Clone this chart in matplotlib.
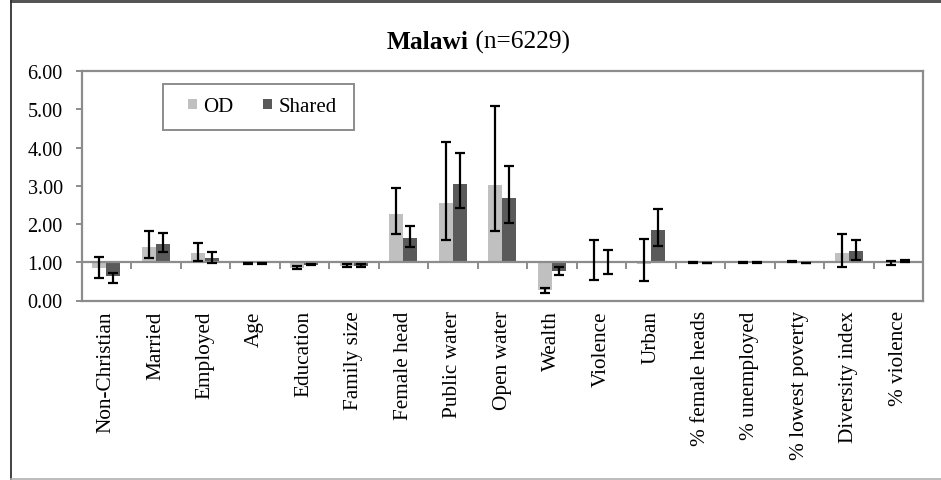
import numpy as np
import matplotlib.pyplot as plt
from matplotlib.patches import Rectangle
from matplotlib.lines import Line2D

# odds ratios, bars are drawn from 1.0
cats = ['Non-Christian', 'Married', 'Employed', 'Age', 'Education', 'Family size',
        'Female head', 'Public water', 'Open water', 'Wealth', 'Violence', 'Urban',
        '% female heads', '% unemployed', '% lowest poverty', 'Diversity index', '% violence']
od = [0.84, 1.40, 1.23, 0.97, 0.85, 0.91, 2.27, 2.55, 3.03, 0.28, 0.97, 0.96, 0.99, 1.00, 1.02, 1.23, 0.97]
od_lo = [0.59, 1.10, 1.03, 0.96, 0.82, 0.87, 1.75, 1.57, 1.82, 0.20, 0.53, 0.50, 0.98, 0.99, 1.01, 0.88, 0.93]
od_hi = [1.14, 1.83, 1.51, 0.98, 0.89, 0.95, 2.94, 4.14, 5.08, 0.33, 1.57, 1.60, 1.00, 1.01, 1.03, 1.75, 1.02]
sh = [0.65, 1.49, 1.11, 0.97, 0.93, 0.90, 1.64, 3.05, 2.68, 0.77, 1.02, 1.85, 0.98, 0.99, 0.98, 1.29, 1.03]
sh_lo = [0.46, 1.27, 0.97, 0.96, 0.92, 0.87, 1.40, 2.42, 2.03, 0.66, 0.69, 1.42, 0.97, 0.98, 0.97, 1.07, 1.00]
sh_hi = [0.72, 1.77, 1.27, 0.98, 0.95, 0.95, 1.95, 3.86, 3.51, 0.88, 1.31, 2.40, 0.99, 1.00, 0.99, 1.57, 1.06]
yticks = [0, 1, 2, 3, 4, 5, 6]

plt.rcParams['font.family'] = ['Liberation Serif', 'DejaVu Serif']
axis_grey = '#8c8c8c'
od_col = '#c0c0c0'
sh_col = '#5a5a5a'

W, H = 941, 481
fig = plt.figure(figsize=(W / 100, H / 100), dpi=100)
ax = fig.add_axes([81.5 / W, (H - 301.5) / H, (923 - 81.5) / W, (301.5 - 72) / H])

x = np.arange(len(cats))
bw = 0.28
od = np.array(od); sh = np.array(sh)
ax.bar(x - bw / 2, od - 1, bw, bottom=1, color=od_col, zorder=2, label='OD')
ax.bar(x + bw / 2, sh - 1, bw, bottom=1, color=sh_col, zorder=2, label='Shared')

# baseline at 1.0 with category separators
ax.axhline(1, color=axis_grey, lw=1.6, zorder=3)
bounds = np.arange(len(cats) + 1) - 0.5
ax.plot(bounds[1:], np.ones(len(bounds) - 1), linestyle='none', marker=3,
        markersize=5, mew=1.4, color=axis_grey, zorder=3)

ax.errorbar(x - bw / 2, od, yerr=[od - np.array(od_lo), np.array(od_hi) - od],
            fmt='none', ecolor='black', elinewidth=1.6, capsize=3.8, capthick=1.6, zorder=4)
ax.errorbar(x + bw / 2, sh, yerr=[sh - np.array(sh_lo), np.array(sh_hi) - sh],
            fmt='none', ecolor='black', elinewidth=1.6, capsize=3.8, capthick=1.6, zorder=4)

ax.set_xlim(-0.5, len(cats) - 0.5)
ax.set_ylim(0, 6)
ax.set_yticks(yticks)
ax.set_yticklabels(['%.2f' % v for v in yticks], fontsize=14.5)
ax.tick_params(axis='y', length=4.5, width=1.4, color=axis_grey, pad=9)
ax.set_xticks(x)
ax.set_xticklabels(cats, rotation=90, fontsize=15.3)
ax.tick_params(axis='x', length=0, pad=7)
for s in ax.spines.values():
    s.set_color(axis_grey)
    s.set_linewidth(1.6)

# legend: entries without frame, box drawn separately (wider than tall like the original)
leg = fig.legend(loc='center left', bbox_to_anchor=(188 / W, 1 - 108 / H), ncol=2,
                 prop={'family': 'Liberation Serif', 'size': 15}, frameon=False,
                 handlelength=0.42, handleheight=0.42, handletextpad=0.3,
                 columnspacing=1.45, borderpad=0, borderaxespad=0)
fig.add_artist(Rectangle((163 / W, 1 - 131 / H), (354 - 163) / W, 46 / H, fill=False,
                         edgecolor=axis_grey, lw=1.4, transform=fig.transFigure))

t1 = fig.text(387 / W, 1 - 49 / H, 'Malawi', fontsize=18.3, fontweight='bold', va='baseline')
ax.annotate(' (n=6229)', xy=(1, 0), xycoords=t1, va='bottom', ha='left', fontsize=18.3)

# outer frame of the chart area
fig.add_artist(Line2D([10.5 / W, 10.5 / W], [0, 1], color='#333333', lw=1.3))
fig.add_artist(Line2D([10.5 / W, 1], [1 - 0.7 / H, 1 - 0.7 / H], color='#333333', lw=1.2))
fig.add_artist(Line2D([10.5 / W, 1], [1 - 3.3 / H, 1 - 3.3 / H], color='#333333', lw=1.2))
fig.add_artist(Line2D([10.5 / W, 1], [0.8 / H, 0.8 / H], color='#b0b0b0', lw=1.2))

fig.savefig('out.png', dpi=100)
